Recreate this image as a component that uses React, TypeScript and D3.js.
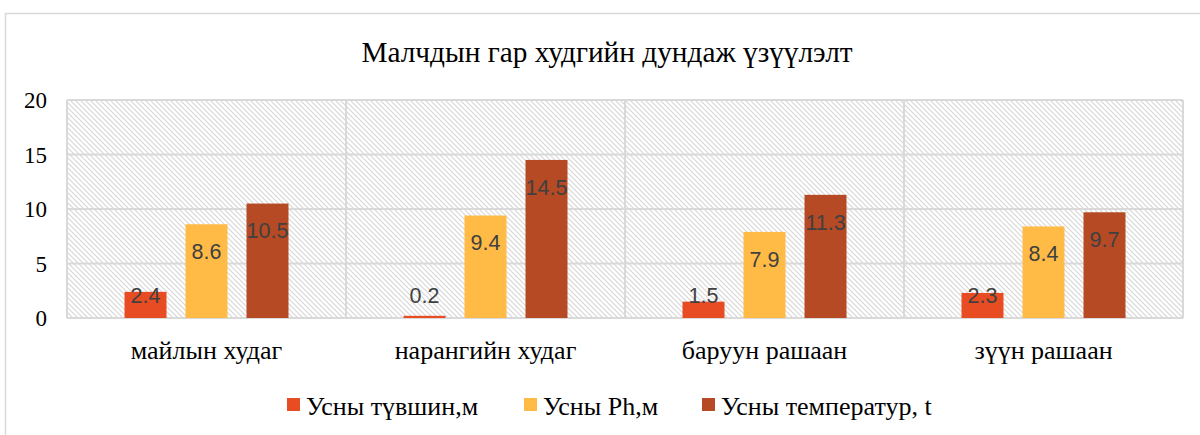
import React from "react";
import * as d3 from "d3";

const categories = ["майлын худаг", "нарангийн худаг", "баруун рашаан", "зүүн рашаан"];
const seriesNames = ["Усны түвшин,м", "Усны Ph,м", "Усны температур, t"];
const level = [2.4, 0.2, 1.5, 2.3];
const ph = [8.6, 9.4, 7.9, 8.4];
const temp = [10.5, 14.5, 11.3, 9.7];
const yTicks = [0, 5, 10, 15, 20];
const colors = ["#E84C22", "#FFBB45", "#B54A24"];

export default function App() {
  const W = 1200, H = 435;
  const left = 67, right = 1183, top = 100, bottom = 318;
  const series = [level, ph, temp];
  const x0 = d3.scaleBand().domain(categories).range([left, right]).paddingInner(0).paddingOuter(0);
  const y = d3.scaleLinear().domain([0, 20]).range([bottom, top]);
  const barW = 42;
  const gap = 19;
  const groupW = barW * 3 + gap * 2;
  const x1 = d3.scaleBand().domain(["0", "1", "2"]).range([0, groupW]).paddingInner(gap / (barW + gap)).paddingOuter(0);
  const serif = "'Liberation Serif', 'Times New Roman', serif";
  const sans = "'Liberation Sans', Arial, sans-serif";
  const legendX = [287, 524, 702];
  return (
    <svg width={W} height={H} style={{ position: "absolute", left: 0, top: 0 }}>
      <defs>
        <pattern id="hatch" patternUnits="userSpaceOnUse" width="5" height="5">
          <rect width="5" height="5" fill="#ffffff" />
          <path d="M-1,-1 L6,6 M-1,4 L1,6 M4,-1 L6,1" stroke="#d8d8d8" strokeWidth="1.2" />
        </pattern>
      </defs>
      <rect x={0} y={0} width={W} height={H} fill="#fff" />
      <rect x={5.5} y={13.5} width={1200} height={430} fill="#fff" stroke="#d9d9d9" strokeWidth={1.5} />
      <text x={607} y={62} textAnchor="middle" fontFamily={serif} fontSize={29.3} fill="#000">
        Малчдын гар худгийн дундаж үзүүлэлт
      </text>
      <rect x={left} y={top} width={right - left} height={bottom - top} fill="url(#hatch)" />
      {yTicks.map((t) => (
        <g key={t}>
          <line x1={left} x2={right} y1={y(t)} y2={y(t)} stroke="#d9d9d9" strokeWidth={2} />
          <text x={47} y={y(t)} dy="0.36em" textAnchor="end" fontFamily={serif} fontSize={23} fill="#000">{t}</text>
        </g>
      ))}
      {categories.map((c, i) => (
        <line key={"v" + i} x1={x0(c)!} x2={x0(c)!} y1={top} y2={bottom} stroke="#d9d9d9" strokeWidth={2} />
      ))}
      <line x1={right} x2={right} y1={top} y2={bottom} stroke="#d9d9d9" strokeWidth={2} />
      {categories.map((c, i) => {
        const gx = x0(c)! + (x0.bandwidth() - groupW) / 2;
        return (
          <g key={c}>
            {series.map((s, j) => {
              const bx = gx + x1(String(j))!;
              const by = y(s[i]);
              const ly = Math.min(by + 27, 295);
              return (
                <g key={j}>
                  <rect x={bx} y={by} width={barW} height={bottom - by} fill={colors[j]} />
                  <text x={bx + barW / 2} y={ly} dy="0.36em" textAnchor="middle" fontFamily={sans} fontSize={21.5} fill="#404040">
                    {s[i].toFixed(1)}
                  </text>
                </g>
              );
            })}
            <text x={x0(c)! + x0.bandwidth() / 2} y={359} textAnchor="middle" fontFamily={serif} fontSize={26} fill="#000">
              {c}
            </text>
          </g>
        );
      })}
      {seriesNames.map((n, j) => (
        <g key={n}>
          <rect x={legendX[j]} y={398} width={13} height={13} fill={colors[j]} />
          <text x={legendX[j] + 19} y={415} fontFamily={serif} fontSize={26} fill="#000">{n}</text>
        </g>
      ))}
    </svg>
  );
}
